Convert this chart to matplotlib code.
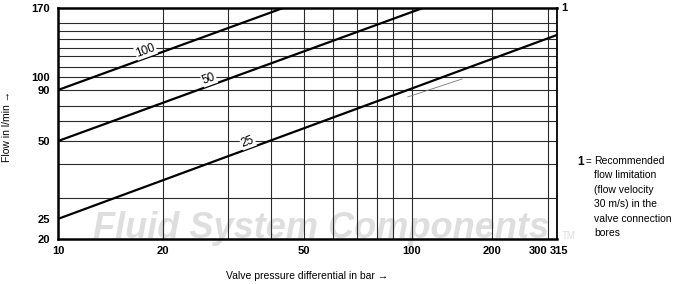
import numpy as np
import matplotlib
matplotlib.use("Agg")
import matplotlib.pyplot as plt
from matplotlib.scale import FuncScale
from matplotlib.transforms import ScaledTranslation

plt.rcParams['font.family'] = ['Liberation Sans', 'DejaVu Sans']

# ------------------------------------------------------
# Data
# ------------------------------------------------------
# tick labels
x_ticks = [10, 20, 50, 100, 200, 300, 315]
y_ticks = [20, 25, 50, 90, 100, 170]

# grid lines inside the frame
x_grid = [20, 30, 40, 50, 60, 70, 80, 90, 100, 200, 300]
y_grid = [30, 40, 50, 60, 70, 90, 100, 110, 120, 130, 140, 150, 160]

# characteristic lines (nominal size), start / end points
curve_labels = ['100', '50', '25']
curve_p = [[10, 43.4], [10, 110], [10, 315]]
curve_q = [[90, 170], [50, 170], [25, 145]]
curve_label_pos = [0.40, 0.42, 0.385]   # fraction along the line

# thin line near 100 bar
thin_p = [97.8, 154.5]
thin_q = [80.7, 98.5]

note_text = ("Recommended\nflow limitation\n(flow velocity\n30 m/s) in the\n"
             "valve connection\nbores")

# ------------------------------------------------------
# The printed axes are log-like but not evenly spaced, so the
# scale follows the printed grid (value -> fraction of axis)
# ------------------------------------------------------
X_SCALE_V = [10, 20, 30, 40, 50, 60, 70, 80, 90, 100, 200, 300, 315]
X_SCALE_F = [0, 0.210, 0.341, 0.427, 0.493, 0.551, 0.599, 0.639, 0.671,
             0.709, 0.870, 0.982, 1.0]
Y_SCALE_V = [20, 25, 30, 40, 50, 60, 70, 90, 100, 110, 120, 130, 140, 150,
             160, 170]
Y_SCALE_F = [0, 0.087, 0.177, 0.325, 0.424, 0.511, 0.576, 0.645, 0.701,
             0.745, 0.792, 0.827, 0.866, 0.900, 0.935, 1.0]


def make_scale(vals, fracs):
    lv = np.log10(vals)
    fr = np.asarray(fracs)

    def fwd(v):
        v = np.clip(np.asarray(v, dtype=float), 1e-9, None)
        return np.interp(np.log10(v), lv, fr)

    def inv(f):
        return 10 ** np.interp(np.asarray(f, dtype=float), fr, lv)

    return fwd, inv


fig = plt.figure(figsize=(6.75, 2.84), dpi=100)
ax = fig.add_axes([58 / 675, 45 / 284, 499 / 675, 231 / 284])
ax.set_facecolor('none')

ax.set_xscale(FuncScale(ax.xaxis, make_scale(X_SCALE_V, X_SCALE_F)))
ax.set_yscale(FuncScale(ax.yaxis, make_scale(Y_SCALE_V, Y_SCALE_F)))
ax.set_xlim(10, 315)
ax.set_ylim(20, 170)

# watermark
ax.text(0.07, 0.006, 'Fluid System Components', transform=ax.transAxes,
        family=['Liberation Sans Narrow', 'Liberation Sans'], fontsize=26,
        weight='bold', style='italic', color='#dedede', ha='left',
        va='baseline', zorder=0, clip_on=False)
ax.text(1.01, 0.0, 'TM', transform=ax.transAxes, fontsize=7,
        color='#dedede', ha='left', va='baseline', zorder=0, clip_on=False)

for xv in x_grid:
    ax.axvline(xv, color='#2a2a2a', lw=0.8, zorder=1)
for yv in y_grid:
    ax.axhline(yv, color='#2a2a2a', lw=0.8, zorder=1)

ax.plot(thin_p, thin_q, color='#777777', lw=0.6, zorder=2)

for lab, p, q, t in zip(curve_labels, curve_p, curve_q, curve_label_pos):
    ax.plot(p, q, color='black', lw=1.6, zorder=3, solid_capstyle='butt')
    d0, d1 = ax.transData.transform([(p[0], q[0]), (p[1], q[1])])
    pt = d0 + t * (d1 - d0)
    ang = np.degrees(np.arctan2(d1[1] - d0[1], d1[0] - d0[0]))
    off = 5.0  # points above the line
    dx = -np.sin(np.radians(ang)) * off
    dy = np.cos(np.radians(ang)) * off
    ax.annotate(lab, xy=ax.transData.inverted().transform(pt),
                xytext=(dx, dy), textcoords='offset points', fontsize=8.5,
                rotation=ang, rotation_mode='anchor', ha='center',
                va='center', zorder=4,
                bbox=dict(fc='white', ec='none', pad=0.6))

# frame
for side, lw in [('top', 1.8), ('bottom', 1.8), ('left', 1.8), ('right', 1.3)]:
    ax.spines[side].set_linewidth(lw)
    ax.spines[side].set_zorder(5)

ax.set_xticks(x_ticks)
ax.set_xticklabels([str(v) for v in x_ticks])
ax.set_yticks(y_ticks)
ax.set_yticklabels([str(v) for v in y_ticks])
ax.xaxis.set_minor_locator(matplotlib.ticker.NullLocator())
ax.yaxis.set_minor_locator(matplotlib.ticker.NullLocator())
ax.tick_params(length=0, labelsize=8)
ax.tick_params(axis='x', pad=5)
ax.tick_params(axis='y', pad=6)
for lbl in ax.get_xticklabels() + ax.get_yticklabels():
    lbl.set_fontweight('bold')

# 300 and 315 sit close together: push them apart
lab300, lab315 = ax.get_xticklabels()[-2:]
lab300.set_ha('right')
lab300.set_transform(lab300.get_transform()
                     + ScaledTranslation(-1 / 100, 0, fig.dpi_scale_trans))
lab315.set_transform(lab315.get_transform()
                     + ScaledTranslation(2 / 100, 0, fig.dpi_scale_trans))

# marker for line 1 at the top right corner
ax.annotate('1', xy=(1, 1), xycoords='axes fraction', xytext=(3, 0),
            textcoords='offset points', fontsize=8, weight='bold',
            ha='left', va='center')

fig.text(7 / 675, 1 - 126 / 284, 'Flow in l/min \u2192', rotation=90,
         ha='center', va='center', fontsize=7.5)
fig.text(307 / 675, 1 - 276 / 284, 'Valve pressure differential in bar \u2192',
         ha='center', va='center', fontsize=7.5)

fig.text(577 / 675, 1 - 162 / 284, '1', ha='left', va='center',
         fontsize=8.5, weight='bold')
fig.text(586 / 675, 1 - 162 / 284, '=', ha='left', va='center', fontsize=7)
fig.text(594 / 675, 1 - 156 / 284, note_text, ha='left', va='top',
         fontsize=7.5, linespacing=1.55)

fig.savefig('out.png', dpi=100)
